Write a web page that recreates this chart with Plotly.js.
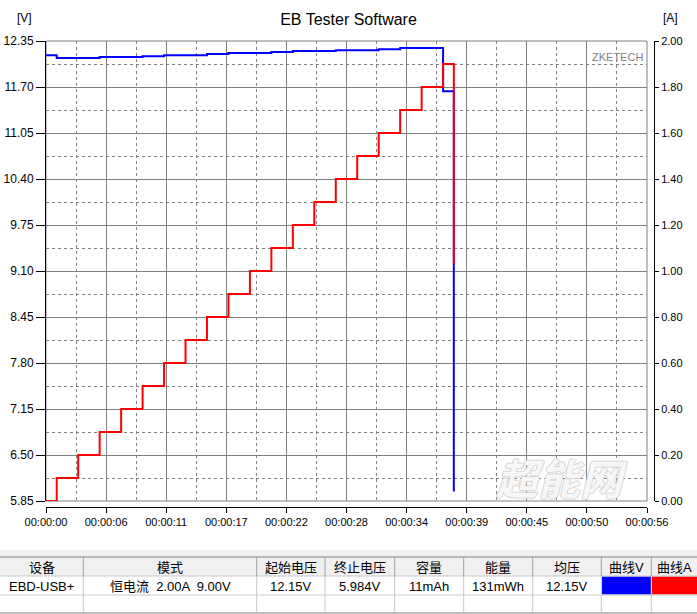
<!DOCTYPE html>
<html><head><meta charset="utf-8">
<script src="https://cdn.plot.ly/plotly-3.0.1.min.js"></script>
<style>html,body{margin:0;padding:0;background:#fff;}#chart{width:697px;height:614px;}</style>
</head><body><div id="chart"></div>
<script>
// ---- data ----
const timeSec  = [0,1,3,5,7,9,11,13,15,17,19,21,23,25,27,29,31,33,35,37,38];
const voltageV = [12.15,12.11,12.11,12.125,12.125,12.135,12.15,12.15,12.165,12.18,12.18,12.195,12.21,12.21,12.22,12.22,12.235,12.25,12.25,11.64,5.984];
const currentA = [0.00,0.10,0.20,0.30,0.40,0.50,0.60,0.70,0.80,0.90,1.00,1.10,1.20,1.30,1.40,1.50,1.60,1.70,1.80,1.90,1.03];
const timeLabels = ['00:00:00','00:00:06','00:00:11','00:00:17','00:00:22','00:00:28','00:00:34','00:00:39','00:00:45','00:00:50','00:00:56'];
const tableHeaders = ['设备','模式','起始电压','终止电压','容量','能量','均压','曲线V','曲线A'];
const tableRow = ['EBD-USB+','恒电流  2.00A  9.00V','12.15V','5.984V','11mAh','131mWh','12.15V','',''];

// ---- axis structure ----
const X_MAX = 56, V_MIN = 5.85, V_MAX = 12.35, A_MAX = 2.0;
const xMajor = timeLabels.map((_, i) => i * X_MAX / 10);
const xMinor = xMajor.slice(0, -1).map(v => v + X_MAX / 20);
const vMajor = Array.from({length: 11}, (_, i) => +(V_MIN + i * (V_MAX - V_MIN) / 10).toFixed(3));
const vMinor = vMajor.slice(0, -1).map(v => v + (V_MAX - V_MIN) / 20);
const aMajor = Array.from({length: 11}, (_, i) => +(i * A_MAX / 10).toFixed(2));

// ---- pixel helpers for margin decorations ----
const W = 697, H = 614, ML = 46, MR = 43, MT = 41, MB = 107;
const PW = W - ML - MR, PH = H - MT - MB;
const px = x => (x - ML) / PW;
const py = y => (H - MB - y) / PH;

const FONT = 'Liberation Sans, Arial, "Noto Sans CJK SC", sans-serif';
const gridCol = '#808080';

const traces = [
  {x: timeSec, y: voltageV, type: 'scatter', mode: 'lines', line: {shape: 'hv', color: '#0000ff', width: 2}, yaxis: 'y', hoverinfo: 'skip'},
  {x: timeSec, y: currentA, type: 'scatter', mode: 'lines', line: {shape: 'hv', color: '#ff0000', width: 2}, yaxis: 'y2', hoverinfo: 'skip'}
];

function note(text, x, y, font) {
  return {text: text, xref: 'paper', yref: 'paper', x: px(x), y: py(y), xanchor: 'center', yanchor: 'middle',
          showarrow: false, font: font};
}
function pline(x0, y0, x1, y1, color) {
  return {type: 'line', xref: 'paper', yref: 'paper', x0: px(x0), x1: px(x1), y0: py(y0), y1: py(y1), line: {color: color, width: 1}};
}
function prect(x0, y0, x1, y1, fill) {
  return {type: 'rect', xref: 'paper', yref: 'paper', x0: px(x0), x1: px(x1), y0: py(y1), y1: py(y0), fillcolor: fill, line: {width: 0}};
}

const shapes = [
  {type: 'rect', xref: 'x domain', yref: 'y domain', x0: 0, x1: 1, y0: 0, y1: 1, line: {color: gridCol, width: 1}, layer: 'below'}
];
const annotations = [
  note('[V]', 24, 18, {size: 12, color: '#000'}),
  note('[A]', 670, 18, {size: 12, color: '#000'}),
  note('ZKETECH', 617, 57, {size: 11, color: '#808080'}),
  note('超能网', 562, 476, {family: '"Noto Sans CJK SC", sans-serif', size: 42, weight: 'bold', style: 'italic',
        color: 'rgba(255,255,255,0.85)', shadow: '1px 0 0 #cfcfcf, -1px 0 0 #cfcfcf, 0 1px 0 #cfcfcf, 0 -1px 0 #cfcfcf'})
];

// ---- table below the chart ----
const colEdges = [0, 83.3, 256.7, 325, 394.7, 463.7, 532.7, 601.3, 651.3, 697];
const T_BAND = 550, T_TOP = 557, T_HEAD = 576, T_ROW1 = 595, T_BOT = 613;
shapes.push(prect(0, T_BAND, 697, T_TOP, '#f0f0f0'));
shapes.push(prect(0, T_TOP, 697, T_HEAD, '#f0f0f0'));
shapes.push(prect(602, 576.5, 651, 594.5, '#0000ff'));
shapes.push(prect(652, 576.5, 697, 594.5, '#ff0000'));
shapes.push(pline(0, T_TOP, 697, T_TOP, '#808080'));
shapes.push(pline(0, T_HEAD, 697, T_HEAD, '#c8c8c8'));
shapes.push(pline(0, T_ROW1, 697, T_ROW1, '#c8c8c8'));
shapes.push(pline(0, T_BOT, 697, T_BOT, '#808080'));
colEdges.slice(1, -1).forEach(x => {
  shapes.push(pline(x, T_TOP, x, T_HEAD, '#a0a0a0'));
  shapes.push(pline(x, T_HEAD, x, T_BOT, '#c8c8c8'));
});
tableHeaders.forEach((t, i) => {
  const cx = (colEdges[i] + colEdges[i + 1]) / 2;
  annotations.push(note(t, cx, 567, {size: 13, color: '#000'}));
  if (tableRow[i]) annotations.push(note(tableRow[i], cx, 586, {size: 13, color: '#000'}));
});

const layout = {
  width: W, height: H,
  margin: {l: ML, r: MR, t: MT, b: MB, pad: 0},
  paper_bgcolor: '#ffffff', plot_bgcolor: '#ffffff',
  showlegend: false,
  font: {family: FONT, size: 11, color: '#000'},
  title: {text: 'EB Tester Software', font: {size: 16, color: '#000'}, x: 0.5, xref: 'container', xanchor: 'center', y: 1 - 19 / H, yref: 'container', yanchor: 'middle'},
  xaxis: {
    domain: [0, 601 / PW], range: [0, X_MAX], anchor: 'free', position: 0,
    tickmode: 'array', tickvals: xMajor, ticktext: timeLabels,
    showline: true, linecolor: '#000', linewidth: 1, ticks: 'outside', ticklen: 5, tickcolor: '#000', tickwidth: 1,
    showgrid: true, gridcolor: gridCol, gridwidth: 1, zeroline: false,
    minor: {tickmode: 'array', tickvals: xMinor, showgrid: true, gridcolor: gridCol, griddash: '3px,3px', gridwidth: 1, ticks: ''},
    tickfont: {size: 11}, fixedrange: true
  },
  yaxis: {
    domain: [6 / PH, 1], range: [V_MIN, V_MAX],
    tickmode: 'array', tickvals: vMajor, ticktext: vMajor.map(v => v.toFixed(2)),
    showline: true, linecolor: '#000', linewidth: 1, ticks: 'outside', ticklen: 9, tickcolor: '#000', tickwidth: 1,
    showgrid: true, gridcolor: gridCol, gridwidth: 1, zeroline: false,
    minor: {tickmode: 'array', tickvals: vMinor, showgrid: true, gridcolor: gridCol, griddash: '3px,3px', gridwidth: 1, ticks: ''},
    tickfont: {size: 12}, fixedrange: true
  },
  yaxis2: {
    overlaying: 'y', side: 'right', anchor: 'free', position: 1, range: [0, A_MAX],
    tickmode: 'array', tickvals: aMajor, ticktext: aMajor.map(v => v.toFixed(2)),
    showline: true, linecolor: '#000', linewidth: 1, ticks: 'outside', ticklen: 4, tickcolor: '#000', tickwidth: 1,
    showgrid: false, zeroline: false, tickfont: {size: 11}, fixedrange: true
  },
  shapes: shapes,
  annotations: annotations
};

Plotly.newPlot('chart', traces, layout, {staticPlot: true, displayModeBar: false});
</script>
</body></html>
